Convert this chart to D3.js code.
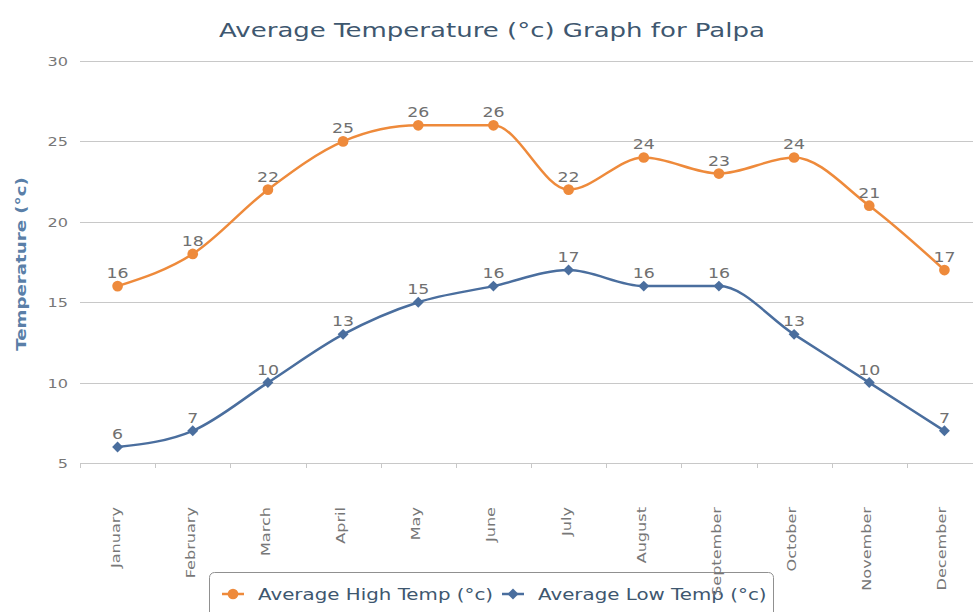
<!DOCTYPE html>
<html>
<head>
<meta charset="utf-8">
<script src="https://cdn.jsdelivr.net/npm/d3@7"></script>
<style>
  body { margin: 0; background: #fff; overflow: hidden; }
  text { font-family: "DejaVu Sans", "Lucida Grande", Verdana, sans-serif; }
</style>
</head>
<body>
<div id="chart"></div>
<script>
// chart data
const months = ['January', 'February', 'March', 'April', 'May', 'June',
  'July', 'August', 'September', 'October', 'November', 'December'];
const highTemps = [16, 18, 22, 25, 26, 26, 22, 24, 23, 24, 21, 17];
const lowTemps = [6, 7, 10, 13, 15, 16, 17, 16, 16, 13, 10, 7];
const yTicks = [5, 10, 15, 20, 25, 30];

const width = 973, height = 612;
const margin = { top: 61, right: -9, bottom: 149, left: 80 };
const innerW = width - margin.left - margin.right;
const innerH = height - margin.top - margin.bottom;

const orange = '#ee8a3b';
const blue = '#4a6e9e';
const wide = 1.24; // the fonts in the picture are wider than DejaVu

const svg = d3.select('#chart')
  .append('svg')
  .attr('width', width)
  .attr('height', height);

svg.append('text')
  .attr('transform', `translate(492,37) scale(1.3,1)`)
  .attr('text-anchor', 'middle')
  .style('font-size', '20px')
  .attr('fill', '#3e576f')
  .text('Average Temperature (°c) Graph for Palpa');

const g = svg.append('g')
  .attr('transform', `translate(${margin.left},${margin.top})`);

const x = d3.scaleBand().domain(months).range([0, innerW]);
const y = d3.scaleLinear().domain([5, 30]).range([innerH, 0]);

// grid lines
g.selectAll('.grid')
  .data(yTicks)
  .enter()
  .append('line')
  .attr('x1', 0)
  .attr('x2', innerW)
  .attr('y1', d => Math.round(y(d)) + 0.5)
  .attr('y2', d => Math.round(y(d)) + 0.5)
  .attr('stroke', '#c8c8c8')
  .attr('stroke-width', 1);

// y labels
g.selectAll('.ylab')
  .data(yTicks)
  .enter()
  .append('text')
  .attr('transform', d => `translate(-12,${y(d) + 5}) scale(${wide},1)`)
  .attr('text-anchor', 'end')
  .style('font-size', '13px')
  .attr('fill', '#777')
  .text(d => d);

svg.append('text')
  .attr('transform', `translate(26,${margin.top + innerH / 2 + 2}) rotate(-90) scale(1.3,1)`)
  .attr('text-anchor', 'middle')
  .style('font-size', '14px')
  .style('font-weight', 'bold')
  .attr('fill', '#5a7fa8')
  .text('Temperature (°c)');

// x axis ticks at band edges
const edges = months.map(m => x(m)).concat([innerW]);
g.selectAll('.xtick')
  .data(edges)
  .enter()
  .append('line')
  .attr('x1', d => Math.round(d) + 0.5)
  .attr('x2', d => Math.round(d) + 0.5)
  .attr('y1', innerH)
  .attr('y2', innerH + 5)
  .attr('stroke', '#c8c8c8');

const cx = (d, i) => x(months[i]) + x.bandwidth() / 2;

const line = d3.line()
  .x(cx)
  .y(d => y(d))
  .curve(d3.curveMonotoneX);

// square diamond, like the highcharts one
const squareDiamond = {
  draw(ctx, size) {
    const r = Math.sqrt(size / 2);
    ctx.moveTo(0, -r);
    ctx.lineTo(r, 0);
    ctx.lineTo(0, r);
    ctx.lineTo(-r, 0);
    ctx.closePath();
  }
};

// series
const series = [
  { name: 'Average High Temp (°c)', values: highTemps, color: orange, marker: 'circle' },
  { name: 'Average Low Temp (°c)', values: lowTemps, color: blue, marker: 'diamond' }
];

const markerSym = s => s.marker === 'circle'
  ? d3.symbol().type(d3.symbolCircle).size(90)
  : d3.symbol().type(squareDiamond).size(60);

series.forEach(s => {
  g.append('path')
    .datum(s.values)
    .attr('d', line)
    .attr('fill', 'none')
    .attr('stroke', s.color)
    .attr('stroke-width', 2.5);

  g.selectAll(null)
    .data(s.values)
    .enter()
    .append('path')
    .attr('d', markerSym(s))
    .attr('transform', (d, i) => `translate(${cx(d, i)},${y(d)})`)
    .attr('fill', s.color);

  g.selectAll(null)
    .data(s.values)
    .enter()
    .append('text')
    .attr('transform', (d, i) => `translate(${cx(d, i)},${y(d) - 8}) scale(${wide},1)`)
    .attr('text-anchor', 'middle')
    .style('font-size', '14px')
    .attr('fill', '#707070')
    .text(d => d);
});

// legend
const legend = svg.append('g').attr('transform', 'translate(209,572)');
legend.append('rect')
  .attr('x', 0.5)
  .attr('y', 0.5)
  .attr('width', 564)
  .attr('height', 60)
  .attr('rx', 5)
  .attr('fill', '#fff')
  .attr('stroke', '#909090')
  .attr('stroke-width', 1);

const legendX = [13, 293];
series.forEach((s, i) => {
  const lg = legend.append('g').attr('transform', `translate(${legendX[i]},22)`);
  lg.append('line')
    .attr('x1', 0)
    .attr('x2', 22)
    .attr('stroke', s.color)
    .attr('stroke-width', 2.5);
  lg.append('path')
    .attr('d', markerSym(s))
    .attr('transform', 'translate(11,0)')
    .attr('fill', s.color);
  lg.append('text')
    .attr('transform', `translate(36,6) scale(${wide},1)`)
    .style('font-size', '16px')
    .attr('fill', '#3e576f')
    .text(s.name);
});

// month labels sit on top of the legend, as in the picture
const xLabels = svg.append('g')
  .attr('transform', `translate(${margin.left},${margin.top})`);

xLabels.selectAll('.xlab')
  .data(months)
  .enter()
  .append('text')
  .attr('transform', d => `translate(${x(d) + x.bandwidth() / 2 + 2},${innerH + 44}) rotate(-90) scale(${wide},1)`)
  .attr('text-anchor', 'end')
  .style('font-size', '13px')
  .attr('fill', '#777')
  .text(d => d);
</script>
</body>
</html>
